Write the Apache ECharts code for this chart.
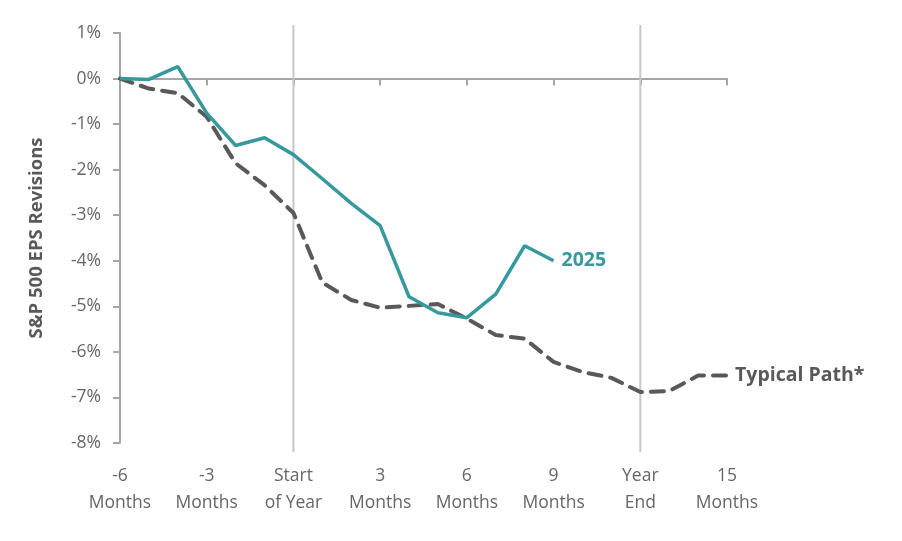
<!DOCTYPE html>
<html>
<head>
<meta charset="utf-8">
<script src="https://cdn.jsdelivr.net/npm/echarts@6/dist/echarts.min.js"></script>
<style>
html,body{margin:0;padding:0;background:#fff;}
#chart{width:902px;height:541px;}
</style>
</head>
<body>
<div id="chart"></div>
<script>
// Months relative to start of year
const months = [-6,-5,-4,-3,-2,-1,0,1,2,3,4,5,6,7,8,9,10,11,12,13,14,15];
const revisions2025 = [0,-0.02,0.26,-0.76,-1.47,-1.3,-1.67,-2.2,-2.74,-3.23,-4.79,-5.14,-5.25,-4.73,-3.67,-4.0];
const typicalPath = [0,-0.22,-0.32,-0.84,-1.86,-2.34,-2.95,-4.48,-4.86,-5.03,-4.99,-4.95,-5.27,-5.63,-5.71,-6.22,-6.44,-6.57,-6.88,-6.86,-6.52,-6.52];
const xTickLabels = {'-6':'-6\nMonths','-3':'-3\nMonths','0':'Start\nof Year','3':'3\nMonths','6':'6\nMonths','9':'9\nMonths','12':'Year\nEnd','15':'15\nMonths'};
const markerMonths = [0, 12];
const seriesNames = ['2025','Typical Path*'];

const font = 'Open Sans';
const yMin = -8, yMax = 1;
const chart = echarts.init(document.getElementById('chart'));
chart.setOption({
  animation:false,
  textStyle:{fontFamily:font},
  grid:{left:120,right:175,top:33,bottom:98},
  xAxis:[{
    type:'value',min:-6,max:15,interval:3,position:'bottom',
    axisLine:{show:false,onZero:false},axisTick:{show:false},splitLine:{show:false},
    axisLabel:{color:'#666666',fontSize:17.5,lineHeight:27,margin:20,fontFamily:font,
      formatter:v=>xTickLabels[String(v)]||''}
  },{
    type:'value',min:-6,max:15,interval:3,position:'bottom',
    axisLine:{show:true,onZero:true,lineStyle:{color:'#a6a6a6',width:2}},
    axisTick:{show:true,length:7,lineStyle:{color:'#a6a6a6',width:2}},
    axisLabel:{show:false},splitLine:{show:false}
  }],
  yAxis:{
    type:'value',min:yMin,max:yMax,interval:1,position:'left',
    name:'S&P 500 EPS Revisions',nameLocation:'middle',nameGap:74,nameRotate:90,
    nameTextStyle:{color:'#595959',fontSize:18.5,fontWeight:'bold',fontFamily:font},
    axisLine:{show:true,onZero:false,lineStyle:{color:'#a6a6a6',width:2}},
    axisTick:{show:true,length:7,lineStyle:{color:'#a6a6a6',width:2}},
    axisLabel:{color:'#666666',fontSize:17.5,margin:19,formatter:'{value}%',fontFamily:font},
    splitLine:{show:false}
  },
  series:[{
    type:'custom',xAxisIndex:0,clip:false,silent:true,z:1,
    data:markerMonths.map(m=>[m]),
    renderItem:function(params,api){
      const top = api.coord([api.value(0), yMax]);
      const bot = api.coord([api.value(0), yMin]);
      return {type:'line',shape:{x1:top[0],y1:top[1]-8,x2:bot[0],y2:bot[1]+9},
        style:{stroke:'#c8c8c8',lineWidth:2}};
    }
  },{
    name:seriesNames[1],type:'line',xAxisIndex:0,
    data:typicalPath.map((v,i)=>[months[i],v]),
    showSymbol:false,
    lineStyle:{color:'#595959',width:4,type:[13,9],cap:'round'},
    endLabel:{show:true,formatter:'{a}',color:'#595959',fontSize:19.5,fontWeight:'bold',distance:8,fontFamily:font},
    z:2
  },{
    name:seriesNames[0],type:'line',xAxisIndex:0,
    data:revisions2025.map((v,i)=>[months[i],v]),
    showSymbol:false,
    lineStyle:{color:'#35999d',width:3.5},
    endLabel:{show:true,formatter:'{a}',color:'#35999d',fontSize:19.5,fontWeight:'bold',distance:8,fontFamily:font},
    z:3
  }]
});
</script>
</body>
</html>
